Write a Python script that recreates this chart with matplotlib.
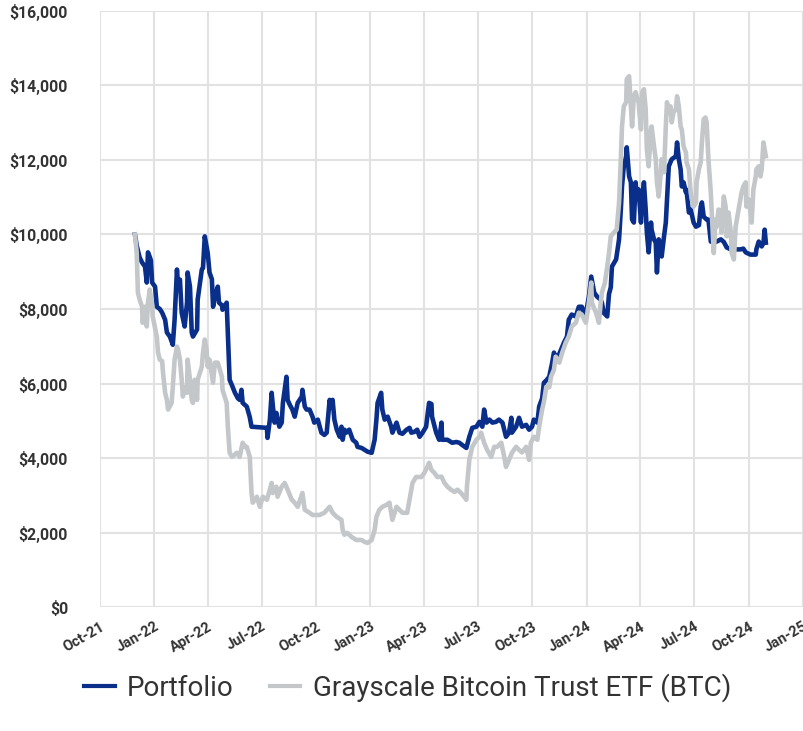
import matplotlib
matplotlib.use("Agg")
import matplotlib.pyplot as plt
import pandas as pd

start_date = pd.Timestamp("2021-10-01")

# days since 2021-10-01 and values ($)
portfolio_day = [59, 62, 67, 71, 76, 79, 81, 84, 86, 88, 93, 96, 101, 105, 110, 113, 118, 123, 126, 130,
                 132, 135, 138, 143, 147, 148, 152, 155, 157, 164, 165, 172, 174, 177, 180, 182, 185, 189, 191, 194,
                 199, 201, 206, 207, 214, 216, 219, 223, 228, 233, 236, 239, 241, 248, 253, 256, 282, 283, 287, 290,
                 292, 295, 298, 300, 303, 307, 309, 312, 315, 317, 320, 325, 329, 334, 341, 342, 346, 349, 354, 359,
                 362, 368, 374, 379, 383, 388, 391, 393, 396, 400, 405, 408, 410, 413, 416, 421, 427, 433, 435, 442,
                 447, 452, 459, 464, 467, 469, 475, 477, 481, 486, 492, 494, 501, 506, 511, 518, 523, 526, 531, 536,
                 540, 545, 551, 553, 556, 560, 561, 568, 573, 577, 578, 587, 595, 602, 607, 612, 619, 624, 629, 636,
                 641, 646, 649, 653, 658, 663, 669, 674, 680, 686, 691, 695, 696, 703, 708, 713, 720, 725, 730, 733,
                 739, 742, 747, 750, 755, 759, 764, 767, 772, 779, 784, 789, 792, 797, 804, 809, 814, 818, 823, 826,
                 830, 835, 840, 846, 848, 851, 857, 860, 863, 865, 872, 877, 880, 882, 885, 889, 890, 894, 897, 899,
                 902, 905, 907, 910, 914, 916, 919, 922, 924, 927, 931, 932, 936, 939, 941, 944, 948, 949, 953, 956,
                 958, 961, 966, 973, 975, 978, 981, 983, 986, 990, 991, 995, 998, 1003, 1007, 1012, 1015, 1017, 1020, 1025,
                 1028, 1032, 1037, 1042, 1049, 1054, 1059, 1066, 1074, 1082, 1087, 1091, 1099, 1108, 1109, 1113, 1118, 1121, 1123, 1125]
portfolio_value = [10000, 9700, 9380, 9250, 9140, 8710, 9520, 9400, 9300, 8710, 8600, 8060, 8000, 7900, 7710, 7370, 7260, 7040, 7710, 9060,
                   8600, 8790, 7900, 7530, 8170, 8980, 8600, 7370, 7260, 7450, 8250, 9060, 9100, 9950, 9680, 9500, 8980, 8800, 8060, 8330,
                   8600, 8170, 8100, 7980, 8170, 7370, 6100, 5950, 5750, 5600, 5560, 5830, 5480, 5380, 5100, 4840, 4810, 4540, 5030, 5750,
                   5400, 4950, 5210, 5050, 4840, 4950, 5480, 5830, 6180, 5560, 5450, 5300, 5110, 5480, 5650, 5830, 5380, 5300, 5300, 5110,
                   4950, 5030, 4680, 4620, 4680, 5560, 5350, 5560, 5030, 4760, 4570, 4840, 4490, 4760, 4680, 4760, 4490, 4410, 4300, 4270,
                   4220, 4170, 4140, 4490, 5030, 5480, 5750, 5300, 5030, 5110, 4840, 4680, 4950, 4680, 4650, 4760, 4810, 4680, 4700, 4760,
                   4570, 4680, 4840, 5110, 5480, 5450, 5110, 4680, 4490, 4950, 4490, 4490, 4410, 4430, 4410, 4350, 4270, 4570, 4810, 4840,
                   4970, 4840, 5300, 4950, 5030, 4950, 4970, 5030, 4950, 4570, 4680, 5080, 4680, 4840, 5080, 4840, 4890, 4760, 4840, 5030,
                   4950, 5380, 5600, 6020, 6100, 6180, 6560, 6830, 6640, 6910, 7100, 7260, 7710, 7850, 7800, 8060, 8060, 7800, 8060, 8330,
                   8870, 8440, 8330, 8250, 8170, 7900, 7800, 8400, 8580, 9140, 9330, 9870, 10670, 11290, 11830, 12100, 12340, 11560, 11400, 10400,
                   10320, 11400, 11020, 11210, 10320, 10940, 11400, 10670, 10050, 9520, 10320, 10130, 9870, 9780, 8980, 9870, 9680, 9410, 9950, 10320,
                   10940, 11830, 12020, 12100, 12470, 12020, 11750, 11290, 11400, 11130, 11200, 10590, 10670, 10320, 10210, 10250, 10750, 10860, 10480, 10400,
                   10400, 9810, 9800, 9810, 9870, 9800, 9650, 9600, 9600, 9600, 9620, 9520, 9460, 9460, 9600, 9810, 9680, 9780, 10130, 9780]

btc_day = [59, 62, 64, 67, 71, 72, 76, 79, 81, 84, 88, 89, 96, 98, 101, 105, 106, 110, 113, 115,
           121, 123, 126, 130, 132, 135, 138, 140, 143, 147, 148, 152, 155, 157, 160, 164, 165, 172, 174, 177,
           180, 182, 185, 191, 194, 199, 202, 206, 207, 214, 216, 219, 223, 228, 231, 236, 241, 245, 248, 253,
           256, 258, 265, 270, 275, 282, 287, 290, 292, 298, 300, 307, 312, 317, 324, 329, 334, 342, 346, 354,
           359, 371, 379, 388, 393, 400, 408, 410, 413, 418, 425, 433, 442, 447, 452, 459, 464, 467, 472, 477,
           484, 489, 494, 501, 506, 511, 519, 523, 528, 534, 543, 548, 553, 556, 560, 565, 570, 577, 582, 587,
           593, 599, 604, 610, 615, 619, 620, 624, 629, 636, 641, 644, 649, 654, 661, 666, 671, 678, 683, 686,
           691, 696, 703, 708, 713, 720, 725, 728, 733, 739, 742, 747, 750, 754, 759, 762, 767, 770, 776, 781,
           787, 792, 797, 804, 809, 814, 821, 826, 830, 831, 838, 843, 846, 848, 853, 857, 860, 863, 868, 873,
           877, 880, 882, 885, 889, 890, 894, 897, 899, 902, 905, 907, 910, 914, 916, 919, 922, 924, 927, 931,
           932, 936, 939, 941, 944, 948, 949, 953, 956, 958, 961, 964, 966, 969, 973, 975, 978, 981, 983, 986,
           990, 991, 995, 998, 1000, 1003, 1007, 1008, 1012, 1015, 1017, 1020, 1023, 1025, 1028, 1032, 1034, 1037, 1040, 1042,
           1045, 1049, 1050, 1054, 1057, 1059, 1062, 1066, 1067, 1071, 1074, 1076, 1079, 1082, 1084, 1087, 1091, 1092, 1096, 1099,
           1101, 1104, 1108, 1109, 1113, 1116, 1118, 1121, 1125]
btc_value = [10000, 9520, 8440, 8250, 8060, 7630, 8060, 7530, 8170, 8520, 8100, 7800, 7260, 6830, 6640, 6600, 6370, 5750, 5560, 5300,
             5480, 5910, 6640, 6990, 6900, 6640, 6100, 5650, 5900, 5750, 6640, 6100, 5560, 5480, 6100, 5560, 6100, 6450, 6830, 7180,
             6910, 6450, 6640, 6020, 6560, 6560, 6400, 6180, 5830, 5480, 4840, 4140, 4030, 4100, 4140, 4030, 4410, 4300, 4300, 4030,
             3060, 2800, 2960, 2690, 2960, 2880, 3150, 3330, 3060, 3230, 2960, 3230, 3330, 3150, 2880, 2800, 2690, 3060, 2610, 2530,
             2470, 2470, 2530, 2690, 2530, 2420, 2340, 2070, 1940, 1990, 1880, 1800, 1800, 1750, 1720, 1800, 2070, 2420, 2610, 2690,
             2740, 2800, 2340, 2690, 2610, 2530, 2530, 2880, 3330, 3490, 3490, 3600, 3760, 3870, 3680, 3600, 3490, 3500, 3330, 3230,
             3150, 3090, 3150, 3060, 2960, 2880, 3230, 3950, 4300, 4490, 4570, 4680, 4410, 4220, 4030, 4300, 4300, 4410, 4030, 3760,
             3950, 4140, 4300, 4220, 4150, 4300, 3950, 4410, 4570, 4490, 4840, 5300, 5500, 5910, 5900, 6180, 6370, 6720, 6560, 6830,
             7100, 7260, 7530, 7630, 7900, 7850, 7630, 8170, 8710, 8170, 7900, 7630, 8170, 8440, 8700, 9140, 9500, 9950, 10050, 10130,
             10860, 12020, 12900, 13440, 13550, 14170, 14250, 13440, 12900, 13710, 13820, 13700, 13550, 12820, 13820, 13900, 13360, 12280, 11830, 12820,
             12900, 12370, 12020, 11400, 11020, 11750, 12020, 11670, 12900, 13550, 13280, 13440, 13010, 13280, 13360, 13710, 13440, 12900, 12820, 12370,
             12200, 11940, 11750, 11130, 10940, 10750, 10860, 11400, 11750, 11940, 12470, 13090, 13140, 13010, 12020, 11130, 10480, 9500, 10400, 10210,
             10670, 10600, 10050, 11020, 10750, 9950, 10590, 10050, 9520, 9330, 10210, 10400, 10670, 10940, 11130, 11290, 11400, 10750, 10940, 10590,
             10320, 11210, 11560, 11750, 11830, 11560, 11750, 12470, 12100]

x_tick_dates = ["2021-10-01", "2022-01-01", "2022-04-01", "2022-07-01", "2022-10-01", "2023-01-01", "2023-04-01",
                "2023-07-01", "2023-10-01", "2024-01-01", "2024-04-01", "2024-07-01", "2024-10-01", "2025-01-01"]
x_tick_labels = ["Oct-21", "Jan-22", "Apr-22", "Jul-22", "Oct-22", "Jan-23", "Apr-23",
                 "Jul-23", "Oct-23", "Jan-24", "Apr-24", "Jul-24", "Oct-24", "Jan-25"]
y_ticks = [0, 2000, 4000, 6000, 8000, 10000, 12000, 14000, 16000]
y_tick_labels = ["$0", "$2,000", "$4,000", "$6,000", "$8,000", "$10,000", "$12,000", "$14,000", "$16,000"]

series_names = ["Portfolio", "Grayscale Bitcoin Trust ETF (BTC)"]

plt.rcParams["font.family"] = ["Roboto", "DejaVu Sans"]

fig = plt.figure(figsize=(8.04, 7.31), dpi=100)
ax = fig.add_axes([0.1244, 0.1696, 0.8745, 0.8154])

p_dates = start_date + pd.to_timedelta(portfolio_day, unit="D")
b_dates = start_date + pd.to_timedelta(btc_day, unit="D")

ax.plot(p_dates, portfolio_value, color="#0a2f8a", lw=3.3, solid_joinstyle="round", label=series_names[0], zorder=2)
ax.plot(b_dates, btc_value, color="#c3c7ca", lw=3.3, solid_joinstyle="round", label=series_names[1], zorder=3)

ax.set_xlim(pd.Timestamp(x_tick_dates[0]), pd.Timestamp(x_tick_dates[-1]))
ax.set_ylim(0, 16000)
ax.set_xticks(pd.to_datetime(x_tick_dates))
ax.set_xticklabels(x_tick_labels, rotation=30, ha="right", rotation_mode="anchor",
                   fontsize=10.5, fontweight="bold", color="#333333")
ax.set_yticks(y_ticks)
ax.set_yticklabels(y_tick_labels, fontsize=11.3, fontweight="bold", color="#333333")
ax.tick_params(axis="y", length=0, pad=23)
ax.tick_params(axis="x", length=0, pad=9)
ax.grid(True, color="#e2e2e2", lw=1.5)
ax.set_axisbelow(True)
for s in ax.spines.values():
    s.set_visible(False)

fig.legend(loc="center", bbox_to_anchor=(0.507, 0.059), ncol=2, frameon=False,
           fontsize=20, handlelength=1.1, handletextpad=0.45, columnspacing=1.3,
           labelcolor="#333333")
for l in fig.legends[0].get_lines():
    l.set_linewidth(3)

fig.savefig("out.png", dpi=100)
